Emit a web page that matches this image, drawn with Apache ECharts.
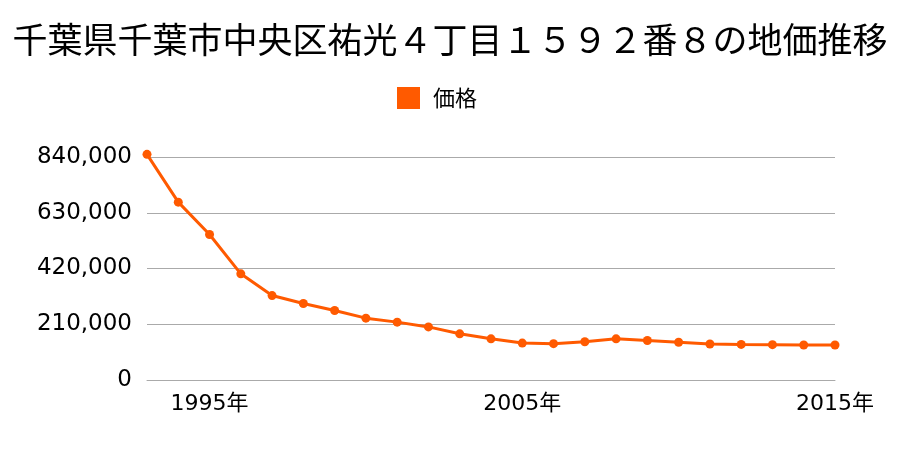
<!DOCTYPE html>
<html><head><meta charset="utf-8">
<script src="https://cdn.jsdelivr.net/npm/echarts@6/dist/echarts.min.js"></script>
<style>html,body{margin:0;padding:0;background:#fff}#c{width:900px;height:450px}</style>
</head><body><div id="c"></div>
<script>
const titleText = "千葉県千葉市中央区祐光４丁目１５９２番８の地価推移";
const seriesName = "価格";
const years = ["1993","1994","1995","1996","1997","1998","1999","2000","2001","2002","2003","2004","2005","2006","2007","2008","2009","2010","2011","2012","2013","2014","2015"];
const prices = [850000,670000,548000,400000,318000,288000,262000,233000,218000,200000,174000,155000,139000,137000,144000,155000,149000,142000,135500,134000,133000,132000,132000];
const labeledYears = ["1995","2005","2015"];
const yTicks = [0,210000,420000,630000,840000];

const chart = echarts.init(document.getElementById('c'));
chart.setOption({
  animation:false,
  title:{text:titleText,left:'center',top:17,textStyle:{fontFamily:'"Noto Sans CJK JP"',fontSize:35,fontWeight:'normal',color:'#000'}},
  legend:{data:[seriesName],top:82,left:392,icon:'rect',itemWidth:23,itemHeight:22,itemGap:10,
    textStyle:{fontFamily:'"Noto Sans CJK JP"',fontSize:22,color:'#000',padding:[0,0,0,8]}},
  grid:{left:147,right:65,top:157,bottom:70,containLabel:false},
  xAxis:{type:'category',data:years,boundaryGap:false,
    axisLine:{lineStyle:{color:'#aaa'}},axisTick:{show:false},
    axisLabel:{interval:(i,v)=>labeledYears.includes(v),formatter:v=>v+'年',margin:13,
      fontFamily:'"DejaVu Sans","Noto Sans CJK JP"',fontSize:22,color:'#000'},
    splitLine:{show:false}},
  yAxis:{type:'value',min:yTicks[0],max:yTicks[yTicks.length-1],interval:yTicks[1]-yTicks[0],
    axisLine:{show:false},axisTick:{show:false},
    axisLabel:{margin:15,fontFamily:'"DejaVu Sans"',fontSize:23,color:'#000',
      formatter:v=>v.toLocaleString('en-US')},
    splitLine:{lineStyle:{color:'#aaa',width:1}}},
  series:[{name:seriesName,type:'line',data:prices,color:'#ff5a00',clip:false,
    symbol:'circle',symbolSize:9,lineStyle:{width:3,color:'#ff5a00'},itemStyle:{color:'#ff5a00'}}]
});
</script></body></html>
